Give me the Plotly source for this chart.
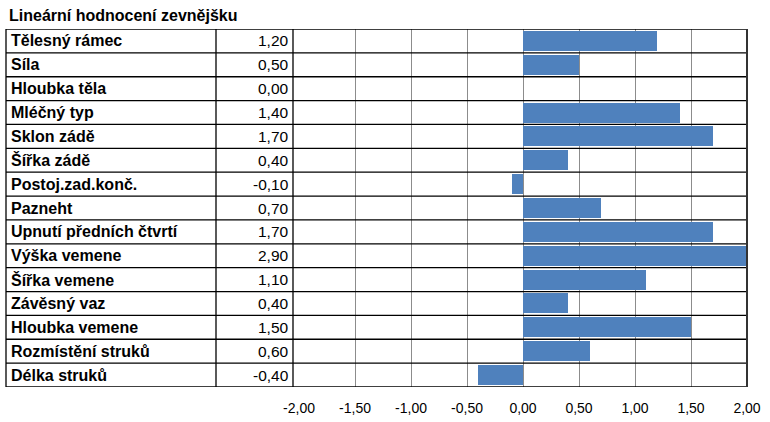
import plotly.graph_objects as go

title = "Lineární hodnocení zevnějšku"
categories = ["Tělesný rámec", "Síla", "Hloubka těla", "Mléčný typ", "Sklon zádě",
              "Šířka zádě", "Postoj.zad.konč.", "Pazneht", "Upnutí předních čtvrtí",
              "Výška vemene", "Šířka vemene", "Závěsný vaz", "Hloubka vemene",
              "Rozmístění struků", "Délka struků"]
values = [1.20, 0.50, 0.00, 1.40, 1.70, 0.40, -0.10, 0.70, 1.70, 2.90, 1.10, 0.40, 1.50, 0.60, -0.40]
tick_vals = [-2.0, -1.5, -1.0, -0.5, 0.0, 0.5, 1.0, 1.5, 2.0]
tick_text = [f"{t:.2f}".replace(".", ",") for t in tick_vals]

W, H = 770, 422
def px(x): return x / W
def py(y): return (H - y) / H

FONT = "Liberation Sans, Arial, sans-serif"
n = len(categories)
idx = list(range(n))

fig = go.Figure()
fig.add_trace(go.Bar(y=idx, x=values, orientation="h", width=0.84,
                     marker=dict(color="#4F81BD", line=dict(width=0)),
                     hoverinfo="skip", showlegend=False))

top, bottom = 29, 387
left, c1, c2 = 6, 216, 293
pl, pr = 299, 747

shapes = []
for i in range(n + 1):
    shapes.append(dict(type="line", xref="paper", yref="y", x0=px(left), x1=px(pr),
                       y0=i - 0.5, y1=i - 0.5, line=dict(color="black", width=1.3)))
for xv in [left, c1, c2]:
    shapes.append(dict(type="line", xref="paper", yref="paper", x0=px(xv), x1=px(xv),
                       y0=py(top), y1=py(bottom), line=dict(color="black", width=1.3)))
shapes.append(dict(type="line", xref="paper", yref="paper", x0=px(pr), x1=px(pr),
                   y0=py(top), y1=py(bottom), line=dict(color="#333333", width=2)))

annotations = [dict(text="<b>" + title + "</b>", xref="paper", yref="paper",
                    x=px(7), y=py(16), xanchor="left", yanchor="middle", showarrow=False,
                    font=dict(family=FONT, size=16, color="black"))]
for i, (c, v) in enumerate(zip(categories, values)):
    annotations.append(dict(text="<b>" + c + "</b>", xref="paper", yref="y",
                            x=px(9), y=i, xanchor="left", yanchor="middle", showarrow=False,
                            font=dict(family=FONT, size=16, color="black")))
    annotations.append(dict(text=f"{v:.2f}".replace(".", ","), xref="paper", yref="y",
                            x=px(c2 - 2), y=i, xanchor="right", yanchor="middle", showarrow=False,
                            font=dict(family=FONT, size=15.5, color="black")))

fig.update_layout(
    width=W, height=H, margin=dict(l=0, r=0, t=0, b=0, autoexpand=False),
    paper_bgcolor="white", plot_bgcolor="white",
    xaxis=dict(domain=[px(pl), px(pr)], range=[-2, 2], tickvals=tick_vals,
               ticktext=tick_text, showgrid=True, gridcolor="#8C8C8C", gridwidth=1,
               zeroline=False, showline=False, ticks="outside", ticklen=8,
               tickcolor="rgba(0,0,0,0)",
               tickfont=dict(family=FONT, size=14, color="black"), fixedrange=True),
    yaxis=dict(domain=[py(bottom), py(top)], range=[n - 0.5, -0.5], showgrid=False,
               zeroline=False, showticklabels=False, ticks="", fixedrange=True),
    shapes=shapes, annotations=annotations, bargap=0,
)
fig.write_html("out.html")
